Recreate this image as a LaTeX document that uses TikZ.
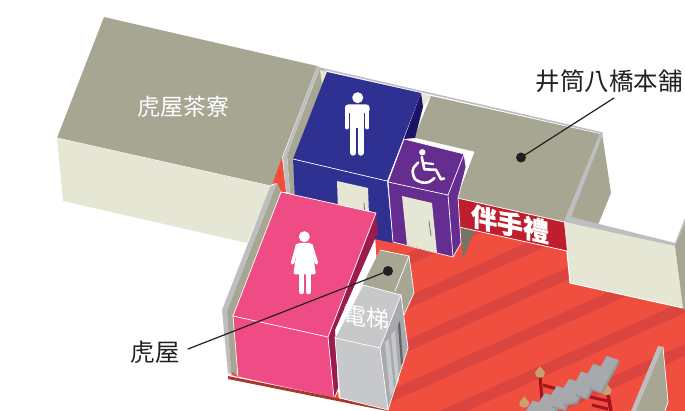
\documentclass[tikz,border=0pt]{standalone}
\usepackage{xcolor}
\usepackage{fontspec}
\newfontfamily\cjk[BoldFeatures={FakeBold=0.6}]{Noto Sans CJK TC}
\definecolor{custom_gray}{HTML}{A6A693}
\definecolor{custom_beige}{HTML}{E6E6D4}
\definecolor{custom_blue}{HTML}{2E3192}
\definecolor{custom_navy}{HTML}{1B1464}
\definecolor{custom_purple}{HTML}{662D91}
\definecolor{custom_pink}{HTML}{EF4B85}
\definecolor{custom_wine}{HTML}{9B1B4E}
\definecolor{custom_red}{HTML}{F04E3E}
\definecolor{custom_stripe}{HTML}{DB453F}
\definecolor{custom_sign}{HTML}{BE1E2D}
\definecolor{custom_lav}{HTML}{BCBEC0}
\definecolor{custom_steel}{HTML}{C7C8CA}
\definecolor{custom_step}{HTML}{A7A9AC}
\definecolor{custom_shade}{HTML}{939598}
\definecolor{custom_post}{HTML}{A3141E}
\definecolor{custom_tan}{HTML}{C8A06E}
\definecolor{custom_ink}{HTML}{231F20}

\begin{document}
\begin{tikzpicture}[
                x=1pt,
                y=-1pt,
                line cap=round,
                line join=round,
                face/.style={draw=white, line width=0.7},
                label/.style={font=\cjk\fontsize{24.5}{26}\selectfont, text=custom_ink, inner sep=0},
                leader/.style={draw=custom_ink, line width=1.2},
                dot/.style={circle, fill=custom_ink, minimum size=10, inner sep=0},
                stepbox/.style={fill=custom_step},
                stepside/.style={fill=custom_shade}
            ]
            \useasboundingbox (0,0) rectangle (685,411);

            % Red floor with darker stripes
            \fill[custom_red] (375,236) -- (458,200) -- (568,225) -- (571,283) -- (685,308) -- (685,411) -- (387,411) -- cycle;
            \begin{scope}
                \clip (375,236) -- (458,200) -- (568,225) -- (571,283) -- (685,308) -- (685,411) -- (387,411) -- cycle;
                \foreach \k in {-1,...,4} {
                    \draw[custom_stripe, line width=11, line cap=butt] (360,{324+43*\k}) -- (700,{171+43*\k});
                }
            \end{scope}

            % Tea room
            \fill[custom_gray] (104,17) -- (317,66) -- (271,186) -- (57,138) -- cycle;
            \draw[white, line width=0.7] (57,138) -- (271,186);
            \fill[custom_beige] (57,138) -- (271,186) -- (247,243) -- (63,201) -- cycle;
            \node[font=\cjk\fontsize{23}{24}\selectfont, text=white, inner sep=0] (tearoom) at (183,107) {虎屋茶寮};

            % Long wall behind the shop
            \fill[custom_red] (282,157) -- (286,192) -- (281,192) -- (277,183) -- (272,184) -- cycle;
            \fill[custom_gray] (320,68) -- (327,72) -- (293,160) -- (296,200) -- (290,193) -- (287,155) -- cycle;
            \fill[custom_lav] (317,66) -- (320,67) -- (287,155) -- (283,157) -- cycle;
            \fill[custom_lav] (283,157) -- (287,155) -- (290,193) -- (286,192) -- cycle;
            \draw[custom_lav, line width=1.6] (319,68) -- (602,133);
            \fill[custom_beige] (320,70) -- (327,72) -- (322,84) -- cycle;
            \fill[custom_beige] (421,93) -- (431,96) -- (423,107) -- cycle;

            % Shop counter
            \fill[custom_gray] (431,96) -- (600,134) -- (564,222) -- (457,198) -- (474,152) -- (414,138) -- cycle;
            \draw[white, line width=0.7] (414,138) -- (474,152) -- (456,198) -- (564,222);
            \fill[custom_gray] (602,133) -- (611,193) -- (598,225) -- (570,219) -- cycle;
            \fill[custom_lav] (600,133) -- (603,134) -- (571,217) -- (675,243) -- (685,218) -- (685,225) -- (675,247) -- (564,222) -- cycle;

            % Right hand room
            \fill[custom_beige] (564,222) -- (675,246) -- (683,308) -- (570,283) -- cycle;
            \draw[white, line width=1] (564,222) -- (570,283) -- (683,308);
            \fill[custom_gray] (675,246) -- (685,224) -- (685,310) -- (683,308) -- cycle;

            % Sign
            \fill[custom_gray!70!black] (461,227) -- (475,229) -- (463,259) -- cycle;
            \fill[custom_sign] (457,198) -- (564,222) -- (567,251) -- (459,227) -- cycle;
            \draw[white, line width=0.7] (457,198) -- (564,222);
            \draw[white, line width=0.7] (459,227) -- (567,251);
            \node[font=\cjk\bfseries\fontsize{26}{27}\selectfont, text=white, inner sep=0, yslant=-0.22] (sign) at (510,224) {伴手禮};

            % Men
            \fill[custom_navy] (421,93) -- (423,107) -- (415,138) -- (404,139) -- cycle;
            \fill[custom_blue] (327,72) -- (421,93) -- (387,181) -- (293,159) -- cycle;
            \fill[custom_blue] (293,159) -- (387,181) -- (393,243) -- (296,222) -- cycle;
            \draw[face] (293,159) -- (387,181);
            \fill[custom_beige] (337,181) -- (368,188) -- (369,215) -- (338,210) -- cycle;
            \draw[custom_lav!60!black, line width=0.8] (364,203) -- (364.500,210);
            \fill[white] (357.700,97.700) circle (5.500);
            \fill[white, rounded corners=3] (345,104.500) rectangle (369.500,113);
            \fill[white] (350,107) rectangle (364,128);
            \draw[white, line width=4] (346.900,108) -- (346.900,127.500);
            \draw[white, line width=4] (367.400,108) -- (367.400,127.500);
            \draw[white, line width=6] (353.300,125) -- (353.300,152.700);
            \draw[white, line width=6] (360.700,125) -- (360.700,152.700);

            % Accessible
            \fill[custom_purple] (404,139) -- (464,154) -- (448,195) -- (388,182) -- cycle;
            \fill[custom_purple] (388,182) -- (448,195) -- (453,257) -- (393,242) -- cycle;
            \fill[custom_purple] (464,154) -- (466,167) -- (458,198) -- (461,243) -- (453,257) -- (448,195) -- cycle;
            \draw[face] (404,139) -- (464,154) -- (466,167) -- (458,198) -- (461,243) -- (453,257) -- (393,242) -- (388,182) -- cycle;
            \draw[face] (388,182) -- (448,195) -- (464,154);
            \draw[face] (448,195) -- (453,257);
            \fill[custom_beige] (402,196) -- (432,203) -- (437,253) -- (407,245) -- cycle;
            \draw[custom_lav!60!black, line width=0.8] (429,221) -- (431,236);
            \fill[white] (422.300,152.300) circle (3.200);
            \draw[white, line width=2.600] (421.800,157) -- (424.300,169.300) -- (436,169.800) -- (441,179.300) -- (444,178.500);
            \draw[white, line width=2.200] (424,163) -- (433.300,164);
            \draw[white, line width=2.600] plot[smooth] coordinates {(418.300,162.500) (413.500,168) (412.800,173) (415,179) (422,182.500) (429,182) (434.500,178)};

            % Left wall of the women's room
            \fill[custom_lav] (270,187) -- (277,183) -- (227,311) -- (231,373) -- (228,374) -- (222,310) -- cycle;
            \fill[custom_gray] (277,183) -- (281,192) -- (233,316) -- (238,377) -- (231,374) -- (227,311) -- cycle;

            % Small counter behind the lift
            \fill[custom_gray] (380,250) -- (409,256) -- (414,293) -- (400,322) -- (360,290) -- cycle;
            \draw[face] (380,250) -- (409,256) -- (414,293) -- (404,315);
            \draw[face] (409,256) -- (395,291);

            % Women
            \fill[custom_wine] (376,213) -- (378,232) -- (335,330) -- (338,388) -- (334,398) -- (328,337) -- cycle;
            \fill[custom_pink] (281,192) -- (376,213) -- (328,337) -- (233,316) -- cycle;
            \fill[custom_pink] (233,316) -- (328,337) -- (334,398) -- (238,377) -- cycle;
            \draw[face] (281,192) -- (376,213) -- (328,337) -- (233,316) -- cycle;
            \draw[face] (233,316) -- (238,377) -- (334,398) -- (328,337);
            \fill[white] (304.300,236.700) circle (5.500);
            \fill[white, rounded corners=1.500] (298,243) -- (311,243) -- (316,274.300) -- (293.300,274.300) -- cycle;
            \draw[white, line width=3.400] (297.500,245) -- (292.500,263);
            \draw[white, line width=3.400] (311,245) -- (316.500,263);
            \draw[white, line width=4.600] (301.700,272) -- (301.700,292);
            \draw[white, line width=4.600] (308.300,272) -- (308.300,292);

            % Floor edge
            \fill[custom_red] (233,372) -- (231,375) -- (238,377) -- cycle;
            \fill[custom_red] (335,398) -- (338,391) -- (339,400) -- cycle;
            \fill[custom_red!70!black] (228,376) -- (387,408) -- (387,411) -- (228,379) -- cycle;

            % Lift
            \fill[custom_steel] (363,285) -- (401,295) -- (380,348) -- (335,338) -- cycle;
            \fill[custom_steel] (335,338) -- (380,348) -- (388,410) -- (340,398) -- cycle;
            \fill[custom_step] (401,295) -- (404,320) -- (408,348) -- (388,410) -- (380,348) -- cycle;
            \fill[custom_steel] (385,342) -- (389,339) -- (394,390) -- (390,397) -- cycle;
            \fill[custom_steel] (391,335) -- (395,330) -- (399,380) -- (396,386) -- cycle;
            \fill[custom_ink!70] (398,325) -- (400,321) -- (403,363) -- (401,365) -- cycle;
            \draw[face] (363,285) -- (401,295) -- (408,348) -- (388,410) -- (340,398) -- (335,338) -- cycle;
            \draw[face] (335,338) -- (380,348) -- (401,295);
            \draw[face] (380,348) -- (388,410);
            \node[font=\cjk\fontsize{23}{24}\selectfont, text=white, inner sep=0, yslant=-0.16] (lift) at (366,317) {電梯};

            % Railing posts
            \draw[custom_post, line width=3, line cap=butt] (540,376) -- (542,400);
            \draw[custom_post, line width=3, line cap=butt] (543,385) -- (557,389);
            \draw[custom_post, line width=3.500, line cap=butt] (608,395) -- (611,411);
            \draw[custom_post, line width=3, line cap=butt] (590,397) -- (608,401);
            \draw[custom_post, line width=3, line cap=butt] (592,405) -- (608,409);
            \foreach \cx/\cy in {540/373.300, 606.700/390.700, 524.300/403.300} {
                \fill[custom_tan] (\cx-5,\cy) .. controls (\cx-5,\cy-3) and (\cx-1,\cy-4) .. (\cx,\cy-7) .. controls (\cx+1,\cy-4) and (\cx+5,\cy-3) .. (\cx+5,\cy) .. controls (\cx+5,\cy+6) and (\cx-5,\cy+6) .. (\cx-5,\cy) -- cycle;
            }

            % Stairs
            \begin{scope}
                \clip (500,340) rectangle (640,411);
                \foreach \ax/\ay/\bx/\by/\cx/\cy/\dx/\dy in {
                    532.700/400.700/541/403/532/418/526/411,
                    545/393.300/553/396/541.700/416/533/411,
                    556.700/386/567/389/553/414/541/411,
                    569.300/379/579/382/564/409/552/406,
                    581/371.700/590/374.500/576/402/564/404,
                    593.300/364/603/367/586/398/576/394,
                    606.700/356/618.300/360/600.700/392/589.300/387.300} {
                    \fill[stepside] (\ax,\ay) -- (\bx,\by) -- (\bx+1.500,\by+2) -- (\cx+1.500,\cy+2) -- (\dx,\dy+2) -- (\dx,\dy) -- cycle;
                    \fill[stepbox] (\ax,\ay) -- (\bx,\by) -- (\cx,\cy) -- (\dx,\dy) -- cycle;
                }
            \end{scope}

            % Bottom right wall
            \fill[custom_gray] (663,347) -- (668,402) -- (665,411) -- (636,411) -- cycle;
            \fill[custom_lav] (658,346) -- (663,347) -- (636,411) -- (631,411) -- cycle;
            \draw[white, line width=0.7] (663,347) -- (668,402) -- (665,411);

            % Labels and leader lines
            \node[label] (honpo) at (609,81) {井筒八橋本舗};
            \node[dot] (honpo_dot) at (521,157.500) {};
            \coordinate (honpo_end) at (614,98);
            \draw[leader] (honpo_end) -- (honpo_dot.center);
            \node[label] (toraya) at (155,352) {虎屋};
            \node[dot] (toraya_dot) at (388,271) {};
            \coordinate (toraya_end) at (188,349);
            \draw[leader] (toraya_end) -- (toraya_dot.center);
        \end{tikzpicture}
\end{document}
